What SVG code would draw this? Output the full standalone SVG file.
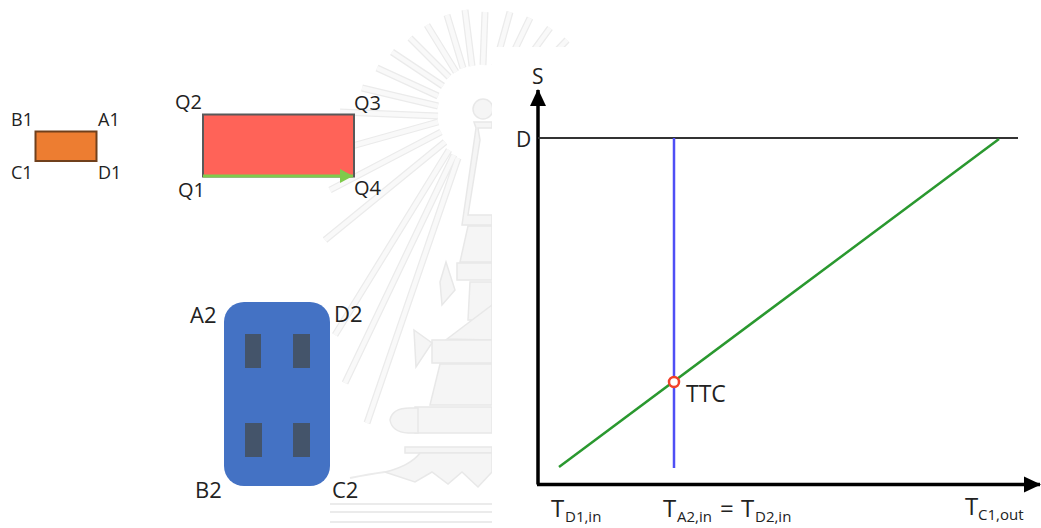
<svg xmlns="http://www.w3.org/2000/svg" width="1041" height="528" viewBox="0 0 1041 528">
<defs>
<marker id="ah" markerUnits="userSpaceOnUse" markerWidth="18" markerHeight="18" refX="16" refY="9" orient="auto"><path d="M0 1 L17 9 L0 17 Z" fill="#000"/></marker>
<marker id="gh" markerUnits="userSpaceOnUse" markerWidth="14" markerHeight="14" refX="13" refY="7" orient="auto"><path d="M0 0 L13 7 L0 14 Z" fill="#7fcb4b"/></marker>
<path id="rays" d="M438 116 L340 112M438 122 L345 148M441 132 L330 190M445 142 L325 240M449 150 L335 335M454 155 L345 383M458 158 L367 423M438 106 L362 88M438 96 L377 68M443 86 L392 52M449 77 L410 38M456 72 L427 25M463 68 L447 15M472 66 L465 10M483 65 L485 12M495 66 L510 12M505 70 L530 18M515 76 L550 28M525 84 L567 40"/>
</defs>
<style>
text{font-family:"Open Sans","Noto Sans","DejaVu Sans",sans-serif;fill:#222;font-size:18px}
.q{font-size:20px}
.n{font-size:22px}
.sub{font-size:15px}
.big{font-size:24px}
.ax{font-size:21px}
.wm{fill:#f5f5f5;stroke:#e8e8e8;stroke-width:1.500}
.pad{fill:#44546a}
</style>
<g id="watermark">
<use href="#rays" fill="none" stroke="#ebebeb" stroke-width="7"/>
<use href="#rays" fill="none" stroke="#f9f9f9" stroke-width="4.500"/>
<circle class="wm" cx="483" cy="109" r="10"/>
<path class="wm" d="M474 122 H492 V128 H478 L480 140 L468 215 H492 V225 H462 L476 128 Z"/>
<path class="wm" d="M468 226 H492 V262 H460 Z"/>
<path class="wm" d="M457 263 H492 V280 H457 Z"/>
<path class="wm" d="M440 282 L446 262 L455 290 L442 305 Z"/>
<path class="wm" d="M470 282 H492 V320 H468 Z" fill="#eeeeee"/>
<path class="wm" d="M447 339 L492 305 V340 Z"/>
<path class="wm" d="M432 340 H492 V363 H432 Z"/>
<path class="wm" d="M414 330 L432 343 L416 367 Z"/>
<path class="wm" d="M430 405 L440 364 H492 V405 Z"/>
<path class="wm" d="M415 407 H492 V433 H415 Z"/>
<path class="wm" d="M390 420 Q392 408 410 408 H418 V433 H408 Q392 432 390 420 Z"/>
<path class="wm" d="M405 447 H492 V453 H405 Z"/>
<path class="wm" d="M385 472 Q410 466 420 453 H492 V472 L478 487 L462 472 L448 484 L432 472 L415 482 Z"/>
<path d="M350 478 Q370 474 385 472 M330 504 H492 M330 512 H492 M330 522 H492" fill="none" stroke="#ebebeb" stroke-width="2"/>
</g>
<g id="panel"><rect x="492" y="47" width="549" height="481" fill="#fff"/></g>
<g id="node-a1">
<rect x="35.500" y="131.500" width="61" height="29.500" fill="#ed7d31" stroke="#70401c" stroke-width="2"/>
<text x="11" y="126">B1</text><text x="98" y="126">A1</text><text x="11" y="179">C1</text><text x="98" y="179">D1</text>
</g>
<g id="node-q">
<rect x="203" y="114.500" width="151" height="62" fill="#ff6358" stroke="#595959" stroke-width="2"/>
<text class="q" x="175" y="109">Q2</text><text class="q" x="354" y="110">Q3</text><text class="q" x="178" y="197">Q1</text><text class="q" x="354" y="195">Q4</text>
</g>
<g id="node-blue">
<rect x="224" y="302" width="106" height="184" rx="20" fill="#4472c4"/>
<rect class="pad" x="245" y="334" width="16" height="34"/><rect class="pad" x="293" y="334" width="17" height="34"/>
<rect class="pad" x="245" y="423" width="17" height="34"/><rect class="pad" x="293" y="423" width="17" height="34"/>
<text class="n" x="190" y="323">A2</text><text class="n" x="334" y="322">D2</text><text class="n" x="195" y="498">B2</text><text class="n" x="332" y="498">C2</text>
</g>
<g id="connectors">
<path d="M203 176 H353" stroke="#7fcb4b" stroke-width="3" fill="none" marker-end="url(#gh)"/>
<path d="M538 484.500 V90" stroke="#000" stroke-width="3.500" fill="none" marker-end="url(#ah)"/>
<path d="M537 484.500 H1040" stroke="#000" stroke-width="3.500" fill="none" marker-end="url(#ah)"/>
<path d="M538 138 H1018" stroke="#333" stroke-width="2" fill="none"/>
<path d="M674 138 V468" stroke="#4f4ff5" stroke-width="2.500" fill="none"/>
<path d="M559 467 L999 139" stroke="#2a982f" stroke-width="2.500" fill="none"/>
</g>
<g id="node-ttc">
<circle cx="674" cy="382" r="5" fill="#fff" stroke="#f2402a" stroke-width="2.500"/>
<text x="686" y="402" style="font-size:23px">TTC</text>
</g>
<g id="labels">
<text class="ax" x="532" y="84">S</text>
<text class="ax" x="516" y="147">D</text>
<text class="big" x="551" y="517">T</text><text class="sub" x="565" y="522">D1,in</text>
<text class="big" x="663" y="517">T</text><text class="sub" x="677" y="522">A2,in</text>
<text class="big" x="720" y="517">=</text>
<text class="big" x="741" y="517">T</text><text class="sub" x="755" y="522">D2,in</text>
<text class="big" x="965" y="515">T</text><text class="sub" x="978" y="520">C1,out</text>
</g>
</svg>
